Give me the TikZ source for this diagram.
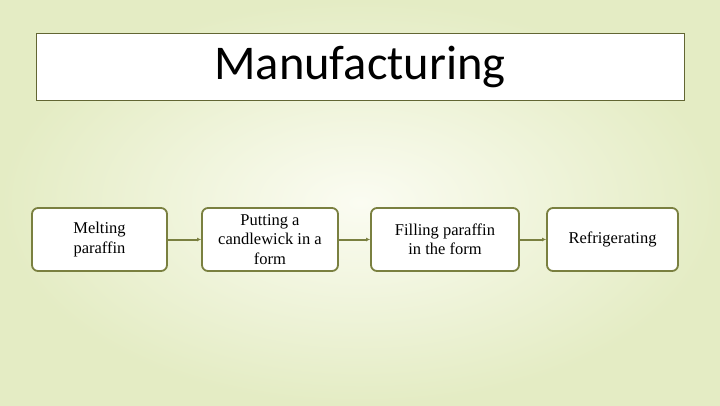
\documentclass[tikz,border=0pt]{standalone}
\usepackage{fontspec}
\setmainfont{Liberation Serif}
\newfontfamily\titlefont{Carlito}
\usetikzlibrary{arrows.meta,shadings}
\definecolor{olive}{HTML}{7A8040}
\definecolor{bgedge}{HTML}{E4ECC4}
\definecolor{bgmid}{HTML}{FBFCF2}
\tikzset{
  procbox/.style={draw=olive,line width=1.8pt,rounded corners=6pt,fill=white,align=center,font=\fontsize{16.5}{19.5}\selectfont,inner sep=0pt},
  conn/.style={draw=olive,line width=2pt,-{Latex[length=4pt,width=4pt]}}
}
\begin{document}
\begin{tikzpicture}[x=1pt,y=-1pt]
\useasboundingbox (0,0) rectangle (720,405);
\shade[inner color=bgmid,outer color=bgedge] (0,0) rectangle (720,405);
\node[draw=olive!80!black,line width=1pt,fill=white,minimum width=648pt,minimum height=67pt,font=\titlefont\fontsize{48.5}{52}\selectfont] (title) at (360,66.5) {Manufacturing};
\node[procbox,minimum width=135pt,minimum height=63pt] (a) at (99.5,239.5) {Melting\\paraffin};
\node[procbox,minimum width=136pt,minimum height=63pt] (b) at (270,239.5) {Putting a\\candlewick in a\\form};
\node[procbox,minimum width=148pt,minimum height=63pt] (c) at (445,239.5) {Filling paraffin\\in the form};
\node[procbox,minimum width=131pt,minimum height=63pt] (d) at (612.5,239.5) {Refrigerating};
\draw[conn] (a) -- (b);
\draw[conn] (b) -- (c);
\draw[conn] (c) -- (d);
\end{tikzpicture}
\end{document}
